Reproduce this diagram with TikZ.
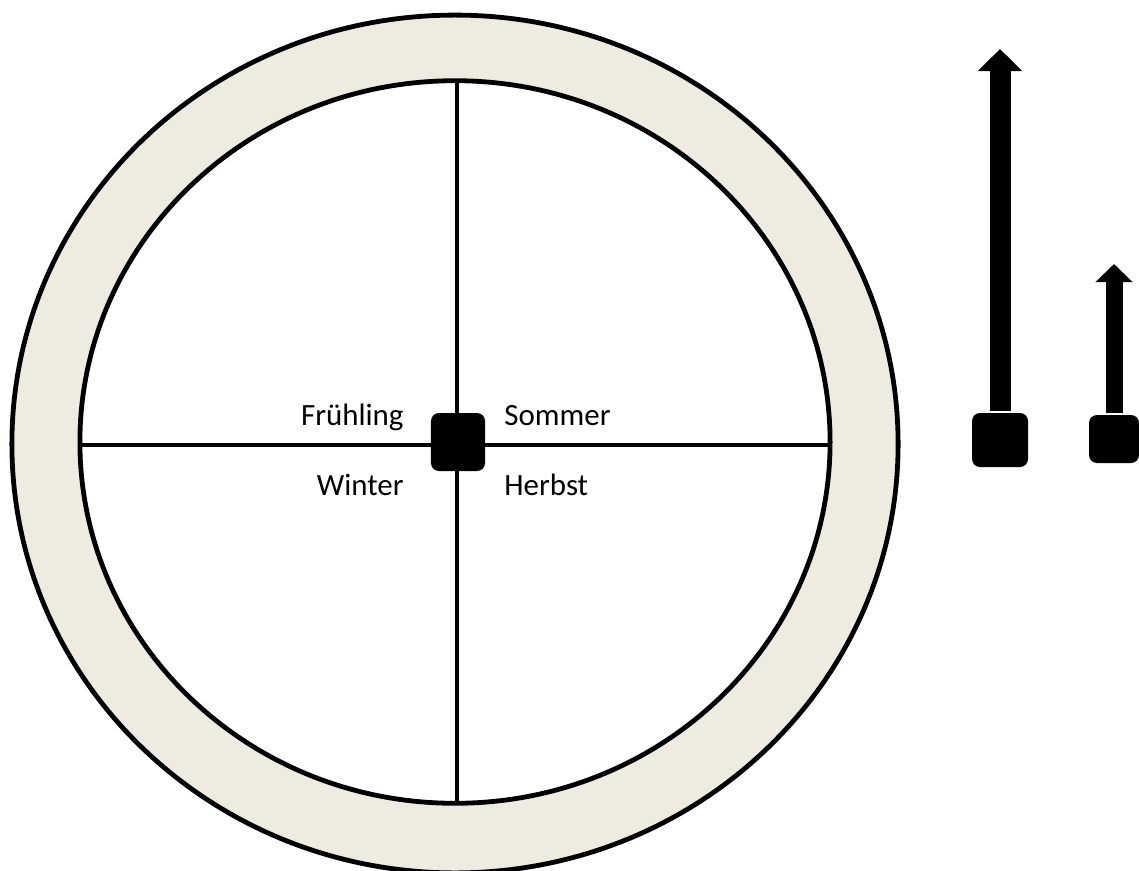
\documentclass[tikz,border=0pt]{standalone}
\usepackage{fontspec}
\setmainfont{Carlito}
\usepackage{tikz}
\usetikzlibrary{arrows.meta,positioning}
\definecolor{beigeAnneau}{HTML}{EEECE1}

\begin{document}
\begin{tikzpicture}[x=0.025cm, y=-0.025cm, line width=0.12cm,
  saison/.style={font=\fontsize{22}{26}\selectfont, inner sep=0pt},
  moyeu/.style={fill=black, rounded corners=0.2cm, inner sep=0pt},
  aiguille/.style={line width=#1}]

\useasboundingbox (0,0) rectangle (1139,870);

% Anneau
\draw[fill=beigeAnneau] (455,444) ellipse [x radius=11.075cm, y radius=10.72cm];
\draw[fill=white] (455,442) ellipse [x radius=9.375cm, y radius=9.03cm];

% Rayons
\coordinate (gauche) at (80,445);
\coordinate (droite) at (830,445);
\coordinate (haut) at (457,81);
\coordinate (bas) at (457,803);
\draw (gauche) -- (droite);
\draw (haut) -- (bas);

% Moyeu
\node[moyeu, minimum width=1.35cm, minimum height=1.45cm] (hub) at (458,442) {};

% Saisons
\node[saison, anchor=base east] (fruehling) at (406,425) {Frühling};
\node[saison, anchor=base west] (sommer) at (502,425) {Sommer};
\node[saison, anchor=base east] (winter) at (406,495) {Winter};
\node[saison, anchor=base west] (herbst) at (502,495) {Herbst};

% Aiguilles
\node[moyeu, minimum width=1.4cm, minimum height=1.35cm] (boutonA) at (1000,440) {};
\node[moyeu, minimum width=1.25cm, minimum height=1.2cm] (boutonB) at (1114,439) {};
\coordinate (pointeA) at (1000,49);
\coordinate (pointeB) at (1114,264);
\draw[aiguille=0.525cm, -{Triangle[width=1.075cm, length=0.55cm]}] (boutonA.north) -- (pointeA);
\draw[aiguille=0.425cm, -{Triangle[width=0.9cm, length=0.45cm]}] (boutonB.north) -- (pointeB);

\end{tikzpicture}
\end{document}
